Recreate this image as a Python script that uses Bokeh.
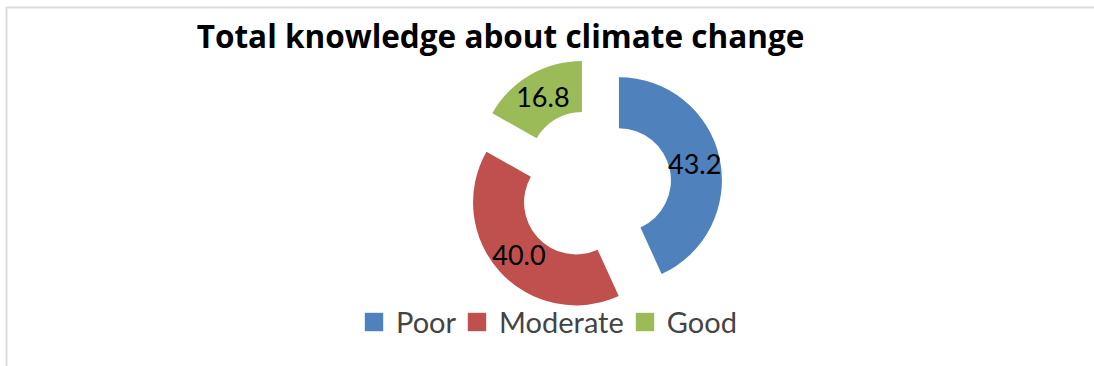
import numpy as np
from bokeh.plotting import figure
from bokeh.models import Range1d, Legend, LegendItem, Label, BoxAnnotation, ColumnDataSource
from bokeh.core.properties import value
from bokeh.embed import file_html
from bokeh.resources import INLINE

# ---- data ----
categories = ["Poor", "Moderate", "Good"]
percent = [43.2, 40.0, 16.8]
labels = ["43.2", "40.0", "16.8"]
colors = ["#4F81BD", "#C0504D", "#9BBB59"]
title_text = "Total knowledge about climate change"

W, H = 1094, 366
p = figure(width=W, height=H, output_backend="svg", toolbar_location=None,
           x_range=Range1d(0, W), y_range=Range1d(0, H), min_border=0,
           x_axis_type=None, y_axis_type=None)
p.grid.visible = False
p.outline_line_color = None
p.background_fill_color = "white"
p.border_fill_color = "white"

# frame line (only top and left visible in the reference)
p.add_layout(BoxAnnotation(left=6, right=W + 20, bottom=-20, top=H - 7,
                           fill_alpha=0, line_color="#8a8a8a", line_width=2))

# geometry (pixel units)
cx, cy = 594, H - 185
R_out, R_in, explode = 103, 52, 25

vals = np.array(percent, dtype=float)
frac = vals / vals.sum()
a1 = np.cumsum(frac) * 2 * np.pi          # clockwise from top
a0 = a1 - frac * 2 * np.pi
mid = (a0 + a1) / 2
xs = cx + explode * np.sin(mid)
ys = cy + explode * np.cos(mid)
start = np.pi / 2 - a1
end = np.pi / 2 - a0
lr = (R_out + R_in) / 2 + explode
lx = cx + lr * np.sin(mid)
ly = cy + lr * np.cos(mid)

src = ColumnDataSource(dict(x=xs, y=ys, start=start, end=end, color=colors,
                            cat=categories, lx=lx, ly=ly, lab=labels))
rend = p.annular_wedge(x="x", y="y", inner_radius=R_in, outer_radius=R_out,
                       start_angle="start", end_angle="end", fill_color="color",
                       line_color=None, source=src)

p.text(x="lx", y="ly", text="lab", source=src, text_align="center",
       text_baseline="middle", text_font=value("Lato"), text_font_size="27px",
       text_color="black")

p.add_layout(Label(x=500, y=H - 35, text=title_text, text_align="center",
                   text_baseline="middle", text_font="Open Sans", text_font_size="31.5px",
                   text_font_style="bold", text_color="black"))

items = [LegendItem(label=c, renderers=[rend], index=i) for i, c in enumerate(categories)]
legend = Legend(items=items, orientation="horizontal", location=(362, 27),
                label_text_font="Lato", label_text_font_size="29px",
                glyph_width=23, glyph_height=23, label_standoff=11, spacing=9,
                padding=0, margin=0, border_line_alpha=0, background_fill_alpha=0,
                label_text_baseline="middle", label_height=23)
p.add_layout(legend)

open("out.html", "w").write(file_html(p, INLINE))
